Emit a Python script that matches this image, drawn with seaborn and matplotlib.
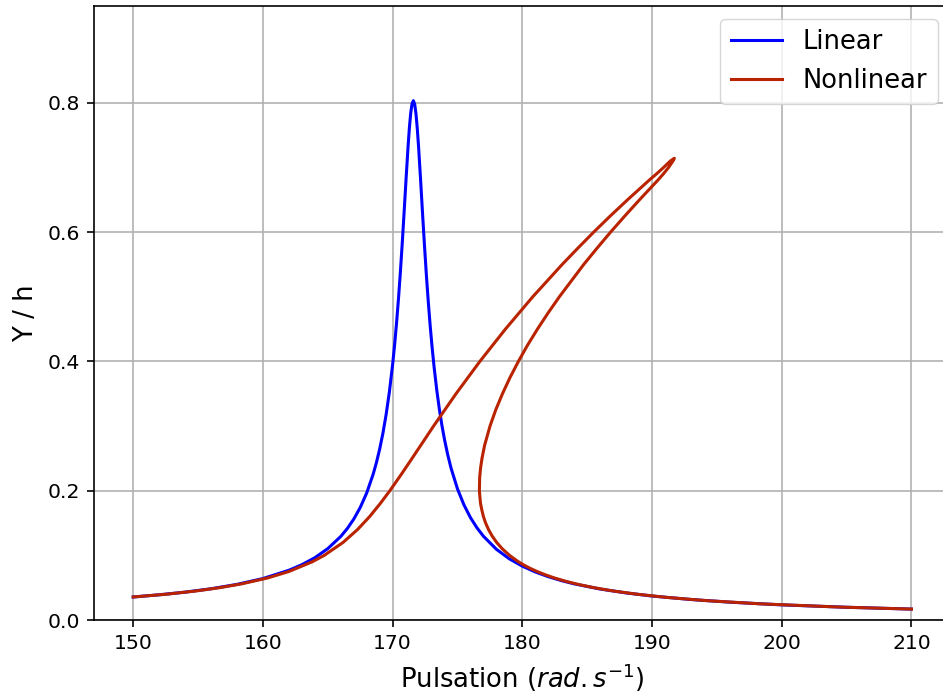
import matplotlib
matplotlib.use("Agg")
import matplotlib.pyplot as plt
import seaborn as sns

# values
lin_w = [150, 152, 154, 156, 158, 160, 162, 163, 164, 165, 166, 166.5, 167,
         167.5, 168, 168.5, 168.75, 169, 169.25, 169.5, 169.75, 170, 170.15,
         170.3, 170.45, 170.6, 170.75, 170.9, 171.05, 171.2, 171.3, 171.4,
         171.5, 171.6, 171.7, 171.8, 171.9, 172.0, 172.15, 172.3, 172.45,
         172.6, 172.75, 172.9, 173.05, 173.2, 173.4, 173.6, 173.8, 174,
         174.25, 174.5, 175, 175.5, 176, 176.5, 177, 178, 179, 180, 181, 182,
         183, 184, 186, 188, 190, 193, 196, 200, 205, 210]
lin_y = [0.0356, 0.0390, 0.0431, 0.0483, 0.0551, 0.0641, 0.0769, 0.0855,
         0.0963, 0.1104, 0.1292, 0.1413, 0.1559, 0.1739, 0.1964, 0.2255,
         0.2434, 0.2642, 0.2887, 0.3178, 0.3528, 0.3950, 0.4249, 0.4587,
         0.4964, 0.5387, 0.5853, 0.6354, 0.6866, 0.7350, 0.7630, 0.7849,
         0.7985, 0.8031, 0.7978, 0.7829, 0.7603, 0.7320, 0.6829, 0.6310,
         0.5811, 0.5341, 0.4918, 0.4539, 0.4204, 0.3907, 0.3561, 0.3265,
         0.3011, 0.2791, 0.2554, 0.2352, 0.2028, 0.1780, 0.1584, 0.1426,
         0.1296, 0.1094, 0.0946, 0.0833, 0.0743, 0.0670, 0.0610, 0.0559,
         0.0479, 0.0419, 0.0371, 0.0317, 0.0276, 0.0234, 0.0197, 0.0169]

# nonlinear path: upper branch up to the fold, then back down the lower one
nl_w = [150.0, 152.62, 154.87, 156.66, 158.38, 160.36, 162.00, 163.80, 164.73,
        166.18, 167.30, 168.23, 169.04, 169.79, 170.66, 171.50, 172.33, 173.16,
        174.89, 176.73, 178.70, 180.81, 183.08, 184.28, 185.51, 186.79, 188.12,
        189.77, 190.35, 190.90, 191.42, 191.72,
        191.62, 191.28, 190.88, 190.44, 189.04, 187.91, 186.81, 185.76, 184.74,
        182.86, 181.99, 181.17, 180.40, 179.70, 179.05, 178.47, 177.95, 177.51,
        177.09, 176.89, 176.78, 176.71, 176.69, 176.73, 176.78, 176.88, 177.00,
        177.17, 177.39, 177.67, 178.02, 178.46, 179.01, 179.70, 180.12, 180.59,
        181.14, 181.76, 182.48, 183.33, 184.32, 185.52, 186.98, 188.80, 191.11,
        194.16, 198.35, 204.49, 210.0]
nl_y = [0.0356, 0.040, 0.045, 0.050, 0.056, 0.065, 0.075, 0.090, 0.100,
        0.120, 0.140, 0.160, 0.180, 0.200, 0.225, 0.250, 0.275, 0.300,
        0.350, 0.400, 0.450, 0.500, 0.550, 0.575, 0.600, 0.625, 0.650,
        0.680, 0.690, 0.700, 0.710, 0.714,
        0.710, 0.700, 0.690, 0.680, 0.650, 0.625, 0.600, 0.575, 0.550,
        0.500, 0.475, 0.450, 0.425, 0.400, 0.375, 0.350, 0.325, 0.300,
        0.270, 0.250, 0.235, 0.220, 0.200, 0.190, 0.180, 0.170, 0.160,
        0.150, 0.140, 0.130, 0.120, 0.110, 0.100, 0.090, 0.085, 0.080,
        0.075, 0.070, 0.065, 0.060, 0.055, 0.050, 0.045, 0.040, 0.035,
        0.030, 0.025, 0.020, 0.0169]

plt.rcParams.update({
    "axes.linewidth": 1.18,
    "xtick.major.width": 1.18, "ytick.major.width": 1.18,
    "xtick.major.size": 5.1, "ytick.major.size": 5.1,
    "xtick.major.pad": 5.1, "ytick.major.pad": 5.1,
    "xtick.labelsize": 14.7, "ytick.labelsize": 14.7,
    "axes.labelsize": 18.6, "legend.fontsize": 18.5,
})

fig = plt.figure(figsize=(9.43, 6.95), dpi=100)
ax = fig.add_axes([0.1, 0.1079, 0.9078, 0.8839])

sns.lineplot(x=lin_w, y=lin_y, sort=False, estimator=None, color="blue",
             linewidth=2.2, label="Linear", ax=ax)
sns.lineplot(x=nl_w, y=nl_y, sort=False, estimator=None, color="#b92300",
             linewidth=2.2, label="Nonlinear", ax=ax)

ax.set_xlim(147, 213)
ax.set_ylim(0, 0.95)
ax.set_xticks([150, 160, 170, 180, 190, 200, 210])
ax.set_yticks([0.0, 0.2, 0.4, 0.6, 0.8])
ax.grid(True, color="#b0b0b0", linewidth=1.18)
ax.set_axisbelow(True)
ax.set_xlabel("Pulsation ($rad.s^{-1}$)", labelpad=5.9)
ax.set_ylabel("Y / h", labelpad=5.9)
ax.legend(loc="upper right")

fig.savefig("out.png", dpi=100)
